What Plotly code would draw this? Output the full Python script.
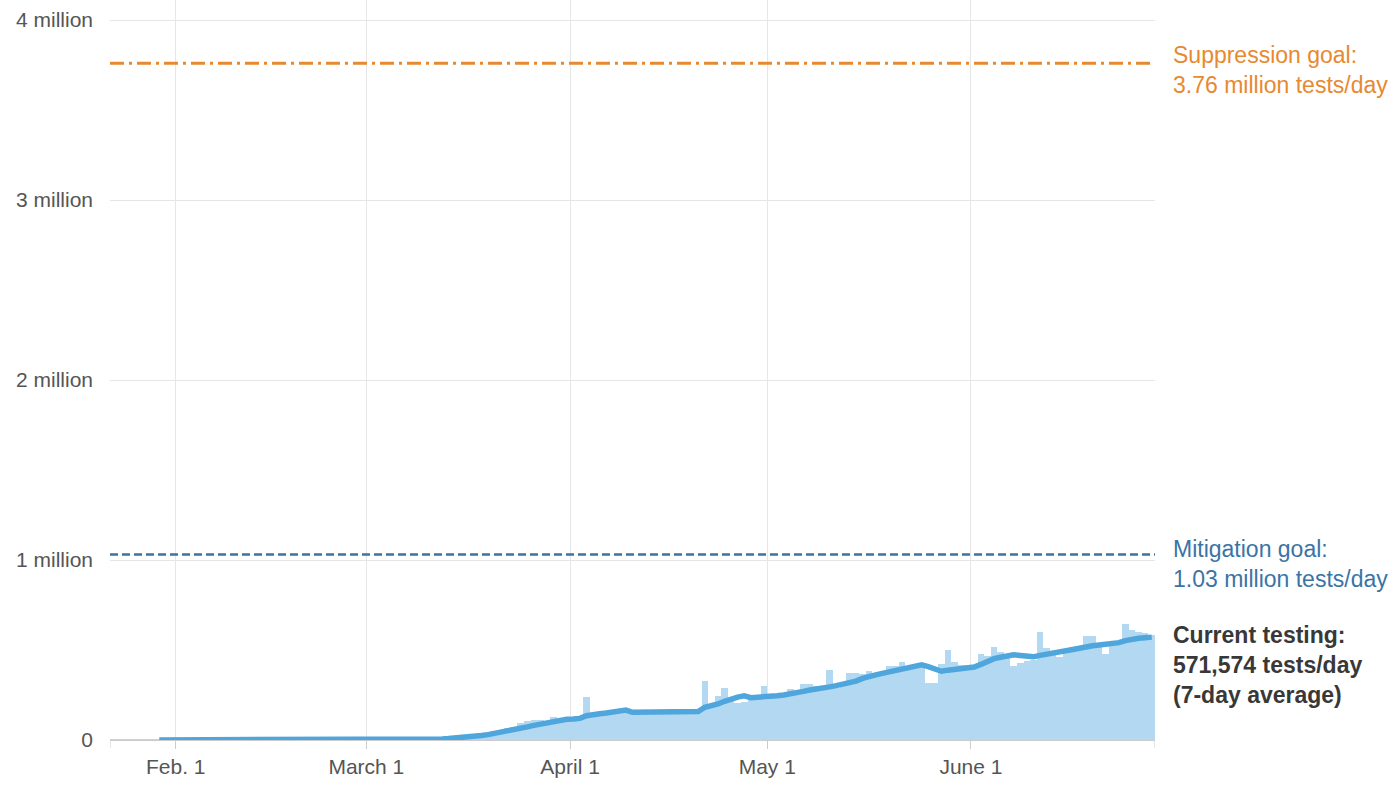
import pandas as pd
import plotly.graph_objects as go

# ---------------- data ----------------
bar_start = "2020-01-22 12:00"
# daily tests, thousands (Jan 22 .. June 28)
daily_k = [
    # Jan 22-31
    0.1, 0.1, 0.1, 0.1, 0.1, 0.1, 0.1, 0.1, 0.1, 0.1,
    # Feb 1-29
    0.1, 0.1, 0.1, 0.1, 0.1, 0.1, 0.1, 0.1, 0.1, 0.1,
    0.1, 0.1, 0.1, 0.1, 0.1, 0.2, 0.2, 0.2, 0.2, 0.3,
    0.3, 0.3, 0.4, 0.4, 0.4, 0.5, 0.5, 0.5, 0.6,
    # March 1-31
    1, 1, 1, 2, 2, 3, 3, 4, 5, 6,
    8, 10, 14, 17, 20, 25, 30, 38, 42, 50,
    52, 67, 70, 94, 108, 112, 110, 106, 128, 122, 120,
    # April 1-30
    125, 130, 239, 140, 140, 150, 160, 165, 170, 155,
    155, 150, 150, 155, 155, 160, 160, 160, 158, 160,
    330, 195, 244, 289, 230, 207, 211, 225, 230, 302,
    # May 1-31
    250, 255, 245, 283, 260, 311, 311, 300, 290, 389,
    290, 300, 372, 372, 367, 383, 350, 360, 411, 411,
    433, 411, 411, 417, 317, 317, 422, 500, 433, 417, 417,
    # June 1-28
    405, 478, 467, 517, 489, 472, 411, 428, 439, 444,
    600, 511, 489, 461, 500, 500, 522, 578, 578, 517,
    478, 539, 539, 644, 611, 600, 594, 583,
]

line_start = "2020-01-29 12:00"
# 7-day average, thousands (Jan 29 .. June 28)
avg_k = [
    # Jan 29-31
    0.1, 0.1, 0.1,
    # Feb 1-29
    0.1, 0.1, 0.1, 0.1, 0.1, 0.1, 0.1, 0.1, 0.1, 0.1,
    0.1, 0.1, 0.1, 0.1, 0.1, 0.1, 0.1, 0.1, 0.2, 0.2,
    0.2, 0.2, 0.2, 0.3, 0.3, 0.3, 0.3, 0.4, 0.4,
    # March 1-31
    0.5, 0.6, 0.8, 1, 1.2, 1.5, 1.8, 2.2, 2.8, 3.5,
    4.5, 6, 8, 10, 14, 17, 21, 25, 30, 36,
    42, 50, 57, 65, 73, 81, 89, 97, 104, 110, 115,
    # April 1-30
    117, 120, 135, 143, 146, 150, 155, 160, 166, 154,
    155, 155, 154, 154, 154, 155, 155, 156, 157, 158,
    182, 188, 200, 215, 228, 238, 245, 235, 238, 243,
    # May 1-31
    245, 246, 250, 255, 262, 270, 278, 282, 288, 295,
    302, 310, 318, 327, 342, 355, 362, 370, 378, 386,
    394, 400, 406, 418, 408, 395, 382, 388, 393, 398, 402,
    # June 1-28
    405, 420, 440, 452, 460, 466, 474, 470, 466, 462,
    470, 478, 484, 489, 496, 503, 510, 519, 524, 528,
    532, 536, 541, 552, 561, 565, 568, 571.574,
]

suppression_goal = 3.76e6
mitigation_goal = 1.03e6

y_tick_vals = [0, 1e6, 2e6, 3e6, 4e6]
y_tick_text = ["0", "1 million", "2 million", "3 million", "4 million"]
x_tick_vals = ["2020-02-01", "2020-03-01", "2020-04-01", "2020-05-01", "2020-06-01"]
x_tick_text = ["Feb. 1", "March 1", "April 1", "May 1", "June 1"]
x_range = ["2020-01-22", "2020-06-29"]

# ---------------- figure ----------------
bar_x = pd.date_range(bar_start, periods=len(daily_k), freq="D")
line_x = pd.date_range(line_start, periods=len(avg_k), freq="D")
daily = [v * 1000 for v in daily_k]
avg = [v * 1000 for v in avg_k]

FONT = "Helvetica, 'Liberation Sans', Arial, sans-serif"
ORANGE = "#e8892f"
MIT_BLUE = "#3a74a6"
BAR_BLUE = "#b3d8f1"
LINE_BLUE = "#4ea6dd"

fig = go.Figure()
fig.add_trace(go.Bar(
    x=bar_x, y=daily, width=86400000,
    marker=dict(color=BAR_BLUE, line=dict(width=0)),
    hoverinfo="skip", showlegend=False,
))
fig.add_trace(go.Scatter(
    x=line_x, y=avg, mode="lines",
    line=dict(color=LINE_BLUE, width=5.5),
    hoverinfo="skip", showlegend=False,
))

shapes = [
    dict(type="line", xref="paper", x0=0, x1=1, yref="y",
         y0=suppression_goal, y1=suppression_goal,
         line=dict(color=ORANGE, width=3, dash="14px,5px,3px,5px")),
    dict(type="line", xref="paper", x0=0, x1=1, yref="y",
         y0=mitigation_goal, y1=mitigation_goal,
         line=dict(color=MIT_BLUE, width=2.5, dash="8px,4px")),
]
for xe in x_range:
    shapes.append(dict(type="line", xref="x", x0=xe, x1=xe,
                       yref="paper", ysizemode="pixel", yanchor=0, y0=0, y1=-8,
                       line=dict(color="#cccccc", width=1)))

last_val = round(avg[-1])
annotations = [
    dict(xref="paper", x=1, xanchor="left", xshift=16,
         yref="y", y=suppression_goal, yanchor="middle", yshift=-7,
         text="Suppression goal:<br>3.76 million tests/day", showarrow=False,
         align="left", font=dict(family=FONT, size=23, color=ORANGE)),
    dict(xref="paper", x=1, xanchor="left", xshift=16,
         yref="y", y=mitigation_goal, yanchor="middle", yshift=-9,
         text="Mitigation goal:<br>1.03 million tests/day", showarrow=False,
         align="left", font=dict(family=FONT, size=23, color=MIT_BLUE)),
    dict(xref="paper", x=1, xanchor="left", xshift=16,
         yref="y", y=avg[-1], yanchor="middle", yshift=-28,
         text=f"<b>Current testing:<br>{last_val:,} tests/day<br>(7-day average)</b>",
         showarrow=False, align="left",
         font=dict(family=FONT, size=23, color="#383838")),
]

fig.update_layout(
    width=1400, height=787,
    margin=dict(l=110, r=245, t=0, b=47),
    paper_bgcolor="white", plot_bgcolor="white",
    bargap=0,
    font=dict(family=FONT, size=21, color="#555555"),
    shapes=shapes, annotations=annotations,
    xaxis=dict(
        type="date", range=x_range,
        tickvals=x_tick_vals, ticktext=x_tick_text,
        showgrid=True, gridcolor="#e6e6e6", gridwidth=1,
        showline=True, linecolor="#cccccc", linewidth=1,
        ticks="outside", ticklen=8, tickcolor="#cccccc",
        tickfont=dict(family=FONT, size=21, color="#555555"),
        zeroline=False,
    ),
    yaxis=dict(
        range=[0, 4.1111e6],
        tickvals=y_tick_vals, ticktext=y_tick_text,
        showgrid=True, gridcolor="#e6e6e6", gridwidth=1,
        zeroline=False, showline=False, ticks="",
        ticklabelstandoff=16,
        tickfont=dict(family=FONT, size=21, color="#555555"),
    ),
)

fig.write_html("out.html", config={"displayModeBar": False},
               post_script="document.body.style.margin='0';")
